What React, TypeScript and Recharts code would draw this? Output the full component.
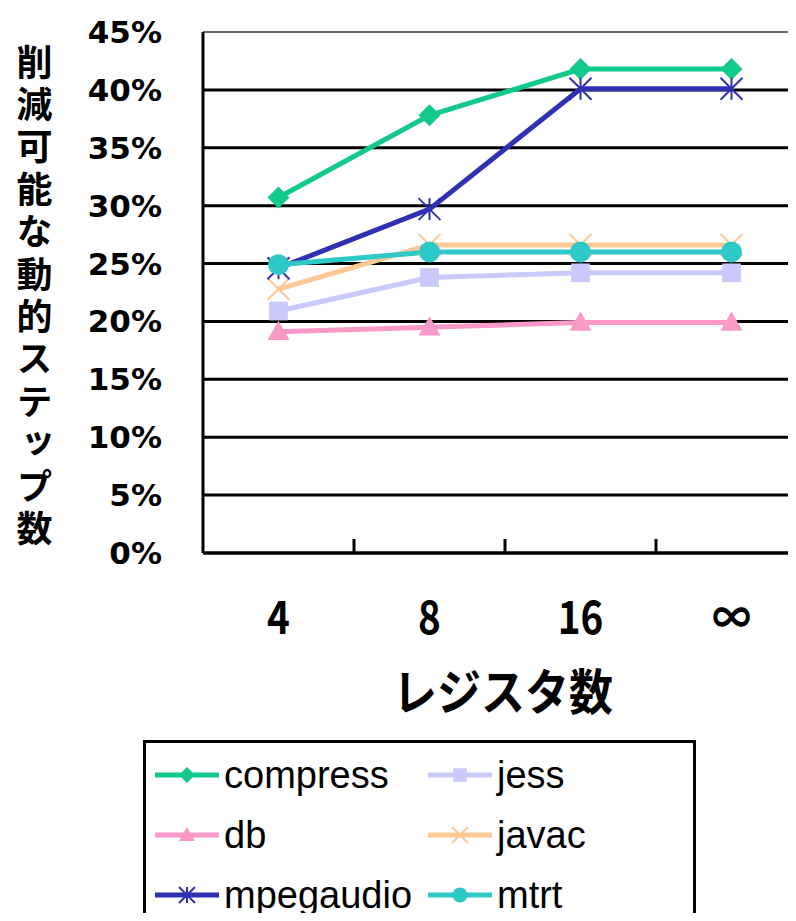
import React from 'react';
import { LineChart, Line, XAxis, YAxis, CartesianGrid, Legend } from 'recharts';

// Register counts on the horizontal axis
const registerCounts = ['4', '8', '16', '∞'];

// Reducible dynamic step ratio (%) per benchmark
const compress = [30.7, 37.8, 41.8, 41.8];
const jess = [20.9, 23.8, 24.2, 24.2];
const db = [19.1, 19.5, 19.9, 19.9];
const javac = [22.8, 26.6, 26.6, 26.6];
const mpegaudio = [24.6, 29.7, 40.1, 40.1];
const mtrt = [24.9, 26.0, 26.0, 26.0];

const percentTicks = [0, 5, 10, 15, 20, 25, 30, 35, 40, 45];
const yTitle = '削減可能な動的ステップ数';
const xTitle = 'レジスタ数';

type Shape = 'diamond' | 'square' | 'triangle' | 'cross' | 'star' | 'circle';

const series: { key: string; values: number[]; color: string; shape: Shape }[] = [
  { key: 'compress', values: compress, color: '#12c98c', shape: 'diamond' },
  { key: 'jess', values: jess, color: '#c9c9fb', shape: 'square' },
  { key: 'db', values: db, color: '#fa98c8', shape: 'triangle' },
  { key: 'javac', values: javac, color: '#fcc894', shape: 'cross' },
  { key: 'mpegaudio', values: mpegaudio, color: '#3030b2', shape: 'star' },
  { key: 'mtrt', values: mtrt, color: '#2ec8c8', shape: 'circle' },
];

// Each register count sits in the middle of its own slot on a numeric axis
const data = registerCounts.map((label, i) => {
  const row: Record<string, number | string> = { slot: i + 0.5, label };
  series.forEach((s) => {
    row[s.key] = s.values[i];
  });
  return row;
});

const slotTicks = [0.5, 1, 1.5, 2, 2.5, 3, 3.5];

function Marker({ shape, cx, cy, color, r }: { shape: Shape; cx: number; cy: number; color: string; r: number }) {
  switch (shape) {
    case 'diamond':
      return <polygon points={`${cx},${cy - r} ${cx + r},${cy} ${cx},${cy + r} ${cx - r},${cy}`} fill={color} />;
    case 'square':
      return <rect x={cx - r * 0.85} y={cy - r * 0.85} width={r * 1.7} height={r * 1.7} fill={color} />;
    case 'triangle':
      return <polygon points={`${cx},${cy - r} ${cx + r},${cy + r * 0.75} ${cx - r},${cy + r * 0.75}`} fill={color} />;
    case 'cross':
      return (
        <g stroke={color} strokeWidth={2}>
          <line x1={cx - r} y1={cy - r} x2={cx + r} y2={cy + r} />
          <line x1={cx - r} y1={cy + r} x2={cx + r} y2={cy - r} />
        </g>
      );
    case 'star':
      return (
        <g stroke={color} strokeWidth={2}>
          <line x1={cx - r} y1={cy - r} x2={cx + r} y2={cy + r} />
          <line x1={cx - r} y1={cy + r} x2={cx + r} y2={cy - r} />
          <line x1={cx} y1={cy - r} x2={cx} y2={cy + r} />
        </g>
      );
    case 'circle':
    default:
      return <circle cx={cx} cy={cy} r={r * 0.95} fill={color} />;
  }
}

const XTick = (props: any) => {
  const { x, y, payload } = props;
  const v = payload.value as number;
  if (Number.isInteger(v)) {
    return <line x1={x} x2={x} y1={y - 14} y2={y} stroke="#000" strokeWidth={3} />;
  }
  return (
    <text
      transform={`translate(${x},${y + 81}) scale(0.84,1)`}
      textAnchor="middle"
      fontFamily="'Noto Sans CJK JP', 'Liberation Sans', sans-serif"
      fontWeight="bold"
      fontSize={46}
      fill="#000"
    >
      {registerCounts[Math.floor(v)]}
    </text>
  );
};

const XTitle = (props: any) => {
  const vb = props.viewBox;
  const cx = vb.x + vb.width / 2 - 2;
  const cy = vb.y + 135;
  return (
    <text
      transform={`translate(${cx},${cy}) scale(1,1.12)`}
      textAnchor="middle"
      dominantBaseline="central"
      fontFamily="'Noto Sans CJK JP', sans-serif"
      fontWeight="bold"
      fontSize={44}
      fill="#000"
    >
      {xTitle}
    </text>
  );
};

// Vertical axis title set in vertical writing mode
const YTitle = (props: any) => {
  const vb = props.viewBox;
  return (
    <text
      x={vb.x + 26.5}
      y={vb.y + 12}
      style={{ writingMode: 'vertical-rl' }}
      letterSpacing={6.4}
      fontFamily="'Noto Sans CJK JP', sans-serif"
      fontWeight="bold"
      fontSize={36}
      fill="#000"
    >
      {yTitle}
    </text>
  );
};

const renderLegend = () => (
  <div
    style={{
      position: 'relative',
      width: 553,
      height: 173,
      boxSizing: 'border-box',
      borderTop: '3px solid #000',
      borderLeft: '3px solid #000',
      borderRight: '3px solid #000',
      background: '#fff',
    }}
  >
    {series.map((s, i) => {
      const col = i % 2;
      const row = Math.floor(i / 2);
      return (
        <div
          key={s.key}
          style={{
            position: 'absolute',
            left: col ? 282 : 9,
            top: 32 + row * 60 - 22,
            height: 44,
            display: 'flex',
            alignItems: 'center',
          }}
        >
          <svg width={64} height={30} style={{ display: 'block' }}>
            <line x1={0} x2={64} y1={15} y2={15} stroke={s.color} strokeWidth={5} />
            <Marker shape={s.shape} cx={32} cy={15} color={s.color} r={8} />
          </svg>
          <span
            style={{
              marginLeft: 5,
              fontFamily: "'Liberation Sans', Arial, sans-serif",
              fontSize: 38,
              lineHeight: '44px',
              color: '#000',
            }}
          >
            {s.key}
          </span>
        </div>
      );
    })}
  </div>
);

const gridLine = (p: any) => (
  <line
    key={p.key}
    x1={p.x1}
    x2={p.x2}
    y1={p.y1}
    y2={p.y2}
    stroke={p.y1 < 30 ? '#666' : '#000'}
    strokeWidth={p.y1 < 30 ? 2 : 3}
  />
);

export default function App() {
  return (
    <div style={{ width: 788, height: 905 }}>
      <LineChart width={788} height={905} data={data} margin={{ top: 24, right: -11, bottom: 200, left: 0 }}>
        <CartesianGrid vertical={false} horizontal={gridLine} />
        <XAxis
          dataKey="slot"
          type="number"
          domain={[0, 4]}
          ticks={slotTicks}
          interval={0}
          height={160}
          tickSize={0}
          tickMargin={0}
          tickLine={false}
          axisLine={{ stroke: '#000', strokeWidth: 3 }}
          tick={<XTick />}
          label={XTitle}
        />
        <YAxis
          domain={[0, 45]}
          ticks={percentTicks}
          interval={0}
          width={195}
          tickSize={0}
          tickMargin={41}
          tickLine={false}
          tickFormatter={(v: number) => `${v}%`}
          axisLine={{ stroke: '#000', strokeWidth: 3 }}
          tick={{ fill: '#000', fontSize: 31, fontFamily: "'DejaVu Sans', sans-serif", fontWeight: 'bold' }}
          label={YTitle}
        />
        <Legend
          layout="horizontal"
          verticalAlign="middle"
          align="center"
          content={renderLegend}
          wrapperStyle={{ left: 135, top: 732, width: 553, height: 173 }}
        />
        {series.map((s) => (
          <Line
            key={s.key}
            dataKey={s.key}
            stroke={s.color}
            strokeWidth={5}
            isAnimationActive={false}
            dot={(p: any) => (
              <Marker key={`${s.key}-${p.index}`} shape={s.shape} cx={p.cx} cy={p.cy} color={s.color} r={11} />
            )}
            activeDot={false}
          />
        ))}
      </LineChart>
    </div>
  );
}
